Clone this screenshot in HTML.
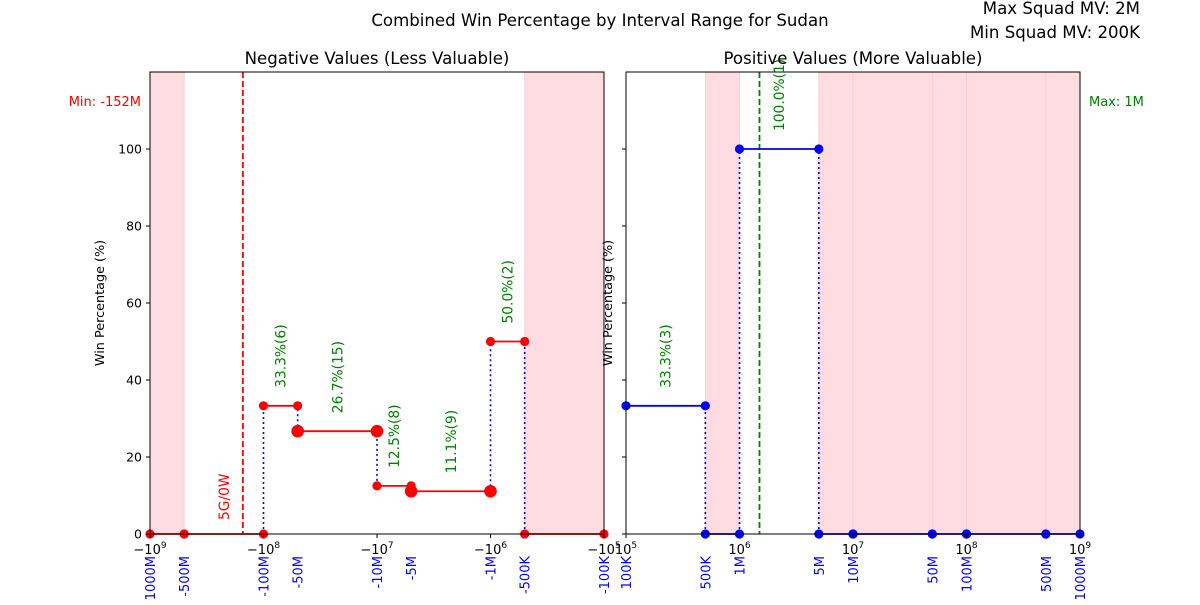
<!DOCTYPE html>
<html><head><meta charset="utf-8"><style>
body{margin:0;background:#fff}
svg text{font-family:"DejaVu Sans","Liberation Sans",sans-serif}
</style></head><body>
<svg id="chart" width="1200" height="600" viewBox="0 0 1200 600" xmlns="http://www.w3.org/2000/svg">
<text x="600" y="26" font-size="16.6" text-anchor="middle">Combined Win Percentage by Interval Range for Sudan</text>
<text x="1140" y="14" font-size="16.6" text-anchor="end">Max Squad MV: 2M</text>
<text x="1140" y="38" font-size="16.6" text-anchor="end">Min Squad MV: 200K</text>
<g id="plots"></g>
</svg>
<script>
// Left panel (negative) data
const negBounds = [-1e9, -5e8, -1e8, -5e7, -1e7, -5e6, -1e6, -5e5, -1e5];
const negWin = [0, 0, 33.3, 26.7, 12.5, 11.1, 50.0, 0];
const negLabels = ["", "5G/0W", "33.3%(6)", "26.7%(15)", "12.5%(8)", "11.1%(9)", "50.0%(2)", ""];
const negBig = [false, false, false, true, false, true, false, false];
const negTickLabels = ["-1000M","-500M","-100M","-50M","-10M","-5M","-1M","-500K","-100K"];
const negPink = [[-1e9,-5e8],[-5e5,-1e5]];
const negRef = -1.52e8;
// Right panel (positive) data
const posBounds = [1e5, 5e5, 1e6, 5e6, 1e7, 5e7, 1e8, 5e8, 1e9];
const posWin = [33.3, 0, 100.0, 0, 0, 0, 0, 0];
const posLabels = ["33.3%(3)", "", "100.0%(1)", "", "", "", "", ""];
const posTickLabels = ["100K","500K","1M","5M","10M","50M","100M","500M","1000M"];
const posPink = [[5e5,1e6],[5e6,1e7],[1e7,5e7],[5e7,1e8],[1e8,5e8],[5e8,1e9]];
const posRef = 1.5e6;
const yTicks = [0,20,40,60,80,100];

const NS="http://www.w3.org/2000/svg";
const root=document.getElementById('plots');
function mk(tag,attrs,parent){const e=document.createElementNS(NS,tag);for(const k in attrs)e.setAttribute(k,attrs[k]);(parent||root).appendChild(e);return e;}
const Y0=534, YT=72, yMax=120;
const yS=v=>Y0-(v/yMax)*(Y0-YT);

function panel(opt){
  const {x0,x1,neg,bounds,win,labels,big,ticks,pink,ref,color,title,showY,ylx}=opt;
  const xS=v=>{const l=Math.log10(Math.abs(v));return neg? x0+(9-l)*(x1-x0)/4 : x0+(l-5)*(x1-x0)/4;};
  const g=mk('g',{});
  pink.forEach(p=>{const a=xS(p[0]),b=xS(p[1]);
    const r=mk('rect',{x:Math.min(a,b),y:YT,width:Math.abs(b-a),height:Y0-YT,fill:'#ffdce2',stroke:'#ffc8d0','stroke-width':0.8},g);
    
    });
  const rl=mk('line',{x1:xS(ref),x2:xS(ref),y1:YT,y2:Y0,stroke:neg?'red':'green','stroke-width':1.8,'stroke-dasharray':'6,3'},g);
  
  
  // vertical connectors between adjacent interval values
  for(let i=0;i<=win.length;i++){
    const prev = i>0?win[i-1]:0, next = i<win.length?win[i]:0;
    if(i===0||i===win.length) continue;
    const hi=Math.max(prev,next), lo=Math.min(prev,next);
    if(hi===lo) continue;
    const x=xS(bounds[i]);
    const d=mk('line',{x1:x,x2:x,y1:yS(lo),y2:yS(hi),stroke:'blue','stroke-width':1.6,'stroke-dasharray':'2,3'},g);
    
    
  }
  for(let i=0;i<win.length;i++){
    const a=xS(bounds[i]),b=xS(bounds[i+1]),y=yS(win[i]);
    const s=mk('line',{x1:a,x2:b,y1:y,y2:y,stroke:color,'stroke-width':1.8},g);
    
    
    const r=(big&&big[i])?6.3:4.6;
    [a,b].forEach(x=>{const c=mk('circle',{cx:x,cy:y,r:r,fill:color},g);
      
      });
    if(labels[i]){
      const isG=labels[i].indexOf('G/')>0;
      const mx=(a+b)/2;
      const ly=isG? Y0-14 : y-18;
      const t=mk('text',{x:0,y:0,'font-size':13.8,fill:isG?'red':'green',transform:`translate(${mx+5},${ly}) rotate(-90)`},g);
      t.textContent=labels[i];
      
      
    }
  }
  const fr=mk('rect',{x:x0,y:YT,width:x1-x0,height:Y0-YT,fill:'none',stroke:'#000','stroke-width':1},g);
  
  
  yTicks.forEach(v=>{const y=yS(v);mk('line',{x1:x0-4,x2:x0,y1:y,y2:y,stroke:'#000'},g);
    if(showY){const t=mk('text',{x:x0-8,y:y+4.5,'font-size':12.5,'text-anchor':'end'},g);t.textContent=v;
      
      }});
  const yl=mk('text',{x:0,y:0,'font-size':12.8,'text-anchor':'middle',transform:`translate(${ylx},303) rotate(-90)`},g);
  yl.textContent='Win Percentage (%)';
  
  
  const tt=mk('text',{x:(x0+x1)/2,y:64,'font-size':16.6,'text-anchor':'middle'},g);
  tt.textContent=title;
  
  
  for(let d=0;d<=4;d++){const x=x0+d*(x1-x0)/4;mk('line',{x1:x,x2:x,y1:Y0,y2:Y0+4,stroke:'#000'},g);
    const e=neg?9-d:5+d;
    const t=mk('text',{x:x,y:Y0+20,'font-size':13,'text-anchor':'middle'},g);
    t.innerHTML=(neg?'\u2212':'')+'10<tspan font-size="9" dy="-6">'+e+'</tspan>';
    
    }
  bounds.forEach((v,i)=>{const x=xS(v);
    const t=mk('text',{x:0,y:0,'font-size':13,fill:'blue','text-anchor':'end',transform:`translate(${x+5},${Y0+22}) rotate(-90)`},g);
    t.textContent=ticks[i];
    
    });
  return g;
}
panel({x0:150,x1:604,neg:true,bounds:negBounds,win:negWin,labels:negLabels,big:negBig,ticks:negTickLabels,pink:negPink,ref:negRef,color:'red',title:'Negative Values (Less Valuable)',showY:true,ylx:104});
panel({x0:626,x1:1080,neg:false,bounds:posBounds,win:posWin,labels:posLabels,big:null,ticks:posTickLabels,pink:posPink,ref:posRef,color:'blue',title:'Positive Values (More Valuable)',showY:false,ylx:612});
const m1=mk('text',{x:141,y:106,'font-size':13,fill:'red','text-anchor':'end'});m1.textContent='Min: -152M';


const m2=mk('text',{x:1089,y:106,'font-size':13,fill:'green'});m2.textContent='Max: 1M';


</script>
</body></html>
